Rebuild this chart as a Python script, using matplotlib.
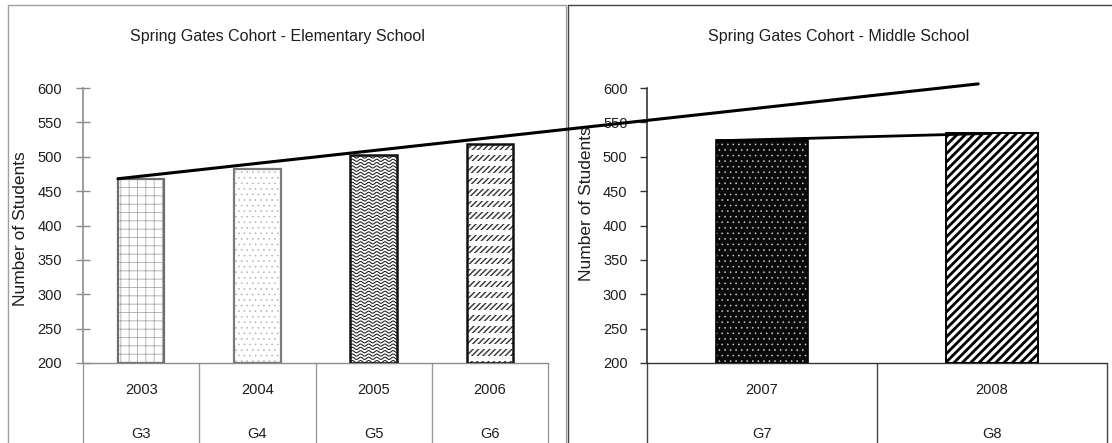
import numpy as np
import matplotlib
matplotlib.use("Agg")
import matplotlib.pyplot as plt
from matplotlib.lines import Line2D
from matplotlib.patches import Rectangle, ConnectionPatch
from matplotlib.transforms import blended_transform_factory

# ---- data -------------------------------------------------------------
elem_years = ["2003", "2004", "2005", "2006"]
elem_grades = ["G3", "G4", "G5", "G6"]
elem_students = [467, 482, 502, 519]

middle_years = ["2007", "2008"]
middle_grades = ["G7", "G8"]
middle_students = [525, 534]

# projected enrollment line drawn across both panels (start, end)
projection = [468, 606]

y_ticks = list(range(200, 601, 50))

# ---- figure setup -----------------------------------------------------
plt.rcParams["font.family"] = ["Liberation Sans", "DejaVu Sans"]
W, H = 1112, 443
fig = plt.figure(figsize=(W / 100, H / 100), dpi=100)
fig.patch.set_facecolor("white")


def fx(px):
    return px / W


def fy(py):
    return 1 - py / H


BAR_W = 0.4
TXT = "#1e1e1e"

ax1 = fig.add_axes([fx(83), fy(363), fx(548) - fx(83), fy(88) - fy(363)])
ax2 = fig.add_axes([fx(647), fy(363), fx(1107) - fx(647), fy(88) - fy(363)])


def style_axes(ax, n, color, tick_dir, tick_len, pad):
    ax.set_facecolor("none")
    ax.set_xlim(-0.5, n - 0.5)
    ax.set_ylim(200, 600)
    ax.set_yticks(y_ticks)
    ax.set_xticks([])
    for s in ("top", "right"):
        ax.spines[s].set_visible(False)
    ax.spines["left"].set_color(color)
    ax.spines["bottom"].set_color(color)
    ax.spines["left"].set_linewidth(1.2)
    ax.spines["bottom"].set_linewidth(1.0)
    ax.tick_params(axis="y", direction=tick_dir, length=tick_len, width=1,
                   color=color, labelsize=10.5, pad=pad, labelcolor=TXT)


def category_table(ax, years, grades, color):
    n = len(years)
    trans = blended_transform_factory(ax.transData, ax.transAxes)
    bounds = np.arange(n + 1) - 0.5
    ax.vlines(bounds, -0.4, 0, transform=trans, colors=color, lw=1,
              clip_on=False)
    for i, (yr, g) in enumerate(zip(years, grades)):
        ax.text(i, -0.098, yr, transform=trans, ha="center", va="center",
                fontsize=10.5, color=TXT)
        ax.text(i, -0.258, g, transform=trans, ha="center", va="center",
                fontsize=10.5, color=TXT)


def hatch_layer(ax, x, val, face, hatch, hcolor, hlw, z):
    with plt.rc_context({"hatch.linewidth": hlw}):
        p = Rectangle((x - BAR_W / 2, 200), BAR_W, val - 200,
                      facecolor=face, edgecolor=hcolor, hatch=hatch,
                      linewidth=0, zorder=z)
        if hasattr(p, "set_hatch_linewidth"):
            p.set_hatch_linewidth(hlw)
        ax.add_patch(p)
    return p


def draw_bar(ax, x, val, st):
    base = hatch_layer(ax, x, val, st["face"], st.get("hatch"),
                       st.get("hcolor", "black"), st.get("hlw", 1.0), 2)
    x0, x1 = x - BAR_W / 2, x + BAR_W / 2
    if st.get("rows"):
        # white bands break the slashes into short rows
        for lev in np.arange(208, val, 16.6):
            ln, = ax.plot([x0, x1], [lev, lev], color="white", lw=3.6,
                          zorder=2.1, solid_capstyle="butt")
            ln.set_clip_path(base)
    if st.get("wave"):
        xs = np.linspace(x0, x1, 300)
        for lev in np.arange(202, val + 4, 4.8):
            ln, = ax.plot(xs, lev + 1.6 * np.sin(2 * np.pi * (xs - x0) / 0.07),
                          color="#1a1a1a", lw=0.75, zorder=2.2)
            ln.set_clip_path(base)
    ax.add_patch(Rectangle((x0, 200), BAR_W, val - 200,
                           facecolor="none", edgecolor=st["edge"],
                           linewidth=st["lw"], zorder=3))


elem_styles = [
    {"face": "white", "hatch": "++", "hcolor": "#a8a8a8", "hlw": 0.6,
     "edge": "#6e6e6e", "lw": 1.6},
    {"face": "white", "hatch": "...", "hcolor": "#b0b0b0", "hlw": 0.4,
     "edge": "#7a7a7a", "lw": 1.6},
    {"face": "white", "wave": True, "edge": "#111111", "lw": 1.8},
    {"face": "white", "hatch": "//////", "hcolor": "#333333", "hlw": 1.0,
     "rows": True, "edge": "#111111", "lw": 1.8},
]
middle_styles = [
    {"face": "#0a0a0a", "hatch": "...", "hcolor": "#d0d0d0", "hlw": 0.4,
     "edge": "#000000", "lw": 1.2},
    {"face": "white", "hatch": "////", "hcolor": "black", "hlw": 2.0,
     "edge": "#000000", "lw": 1.4},
]

style_axes(ax1, len(elem_years), "#8c8c8c", "inout", 10, 10)
style_axes(ax2, len(middle_years), "#333333", "out", 5, 9)

for i, (v, st) in enumerate(zip(elem_students, elem_styles)):
    draw_bar(ax1, i, v, st)
for i, (v, st) in enumerate(zip(middle_students, middle_styles)):
    draw_bar(ax2, i, v, st)

category_table(ax1, elem_years, elem_grades, "#9a9a9a")
category_table(ax2, middle_years, middle_grades, "#444444")

ax1.set_ylabel("Number of Students", fontsize=12.5, color=TXT)
ax1.yaxis.set_label_coords(-0.118, 0.49)
ax2.set_ylabel("Number of Students", fontsize=12.5, color=TXT)
ax2.yaxis.set_label_coords(-0.115, 0.58)

# panel frames
fig.add_artist(Line2D([fx(8), fx(8), fx(566), fx(566)],
                      [fy(460), fy(5), fy(5), fy(460)],
                      transform=fig.transFigure, color="#a0a0a0", lw=1))
fig.add_artist(Line2D([fx(568), fx(568), fx(1120)],
                      [fy(460), fy(5), fy(5)],
                      transform=fig.transFigure, color="#444444", lw=1))

fig.text(fx(277), fy(37), "Spring Gates Cohort - Elementary School",
         ha="center", va="center", fontsize=11.5, color=TXT)
fig.text(fx(839), fy(37), "Spring Gates Cohort - Middle School",
         ha="center", va="center", fontsize=11.5, color=TXT)

# growth line through the middle-school bars
slope = middle_students[1] - middle_students[0]
mx = np.array([-BAR_W / 2, 1.0])
ax2.plot(mx, middle_students[0] + slope * mx, color="black", lw=2,
         zorder=5, solid_capstyle="butt")

# projection line spanning both panels
con = ConnectionPatch(xyA=(-BAR_W / 2, projection[0]), coordsA=ax1.transData,
                      xyB=(0.94, projection[1]), coordsB=ax2.transData,
                      color="black", lw=2.2, zorder=6)
fig.add_artist(con)

fig.savefig("out.png", dpi=100, facecolor="white")
